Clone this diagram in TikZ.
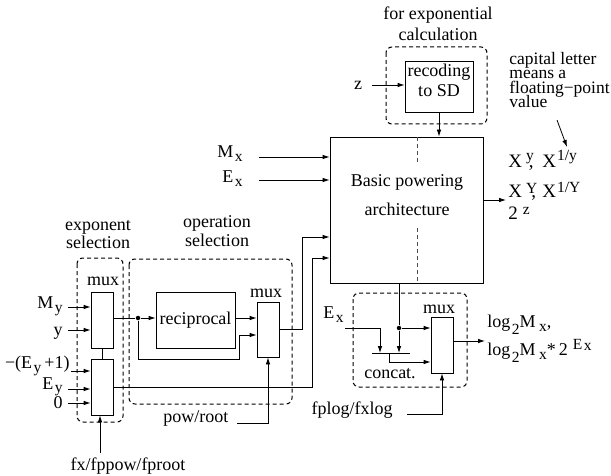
\documentclass[tikz,border=0pt]{standalone}
\usepackage{fontspec}
\setmainfont{Liberation Serif}
\usetikzlibrary{arrows.meta,calc}
\newcommand{\lo}[2][4pt]{\kern1.5pt\raisebox{-#1}{\fontsize{15.5}{15.5}\selectfont #2}}
\newcommand{\hi}[2][7pt]{\raisebox{#1}{\fontsize{15.5}{15.5}\selectfont #2}}
\begin{document}
\begin{tikzpicture}[x=1pt,y=-1pt,font=\fontsize{18}{20}\selectfont,line width=0.8pt,
  arr/.style={-{Latex[length=7pt,width=4.6pt]}},
  box/.style={draw,inner sep=0pt},
  dbox/.style={draw,line width=1pt,dash pattern=on 4pt off 3pt,rounded corners=6pt},
  txt/.style={inner sep=0pt},
  big/.style={font=\fontsize{19}{20}\selectfont},
  note/.style={font=\fontsize{17.5}{18}\selectfont},
  dot/.style={circle,fill,inner sep=0pt,minimum size=4.5pt}]
\path[use as bounding box] (0,0) rectangle (611,476);

% main block
\node[box,minimum width=153pt,minimum height=146pt] (main) at (406.5,210) {};
\coordinate (dl1) at (417,137); \coordinate (dl2) at (417,164);
\coordinate (dl3) at (417,228); \coordinate (dl4) at (417,283);
\draw[dash pattern=on 4pt off 3pt,draw=black!70] (dl1)--(dl2) (dl3)--(dl4);
\node[txt,anchor=base] (bp1) at (407,187) {Basic powering};
\node[txt,anchor=base] (bp2) at (407,215) {architecture};

% recoding
\draw[dbox] (386,47) rectangle (487,124);
\node[box,minimum width=68pt,minimum height=51pt] (rec) at (439,86.5) {};
\node[txt,anchor=base] (rc1) at (439,77) {recoding};
\node[txt,anchor=base] (rc2) at (439,97) {to SD};
\node[txt,anchor=base] (fe1) at (438,20) {for exponential};
\node[txt,anchor=base] (fe2) at (438,41) {calculation};
\node[txt,anchor=base] (zin) at (358,90) {z};
\coordinate (iz) at (372,85);
\draw[arr] (iz) -- (iz -| rec.west);
\draw[arr] (rec.south) -- (rec.south |- main.north);

% note
\node[txt,note,anchor=base west] (n1) at (509,65) {capital letter};
\node[txt,note,anchor=base west] (n2) at (509,79) {means a};
\node[txt,note,anchor=base west] (n3) at (509,94) {floating−point};
\node[txt,note,anchor=base west] (n4) at (509,108) {value};
\coordinate (na) at (557,120); \coordinate (nb) at (567,147);
\draw[arr] (na) -- (nb);

% outputs
\node[txt,big,anchor=base west] (o1a) at (508,168) {X\kern4pt\hi[8pt]{y}\kern-5pt,};
\node[txt,big,anchor=base west] (o1b) at (542,168) {X\kern1pt\hi[8pt]{1/y}};
\node[txt,big,anchor=base west] (o2a) at (508,197) {X\kern4pt\hi[4pt]{Y}\kern-6pt,};
\node[txt,big,anchor=base west] (o2b) at (542,197) {X\kern1pt\hi[5pt]{1/Y}};
\node[txt,big,anchor=base west] (o3) at (508,219) {2\kern5pt\hi[5pt]{z}};
\coordinate (oa) at (506,200);
\draw[arr] (main.east |- oa) -- (oa);

% Mx, Ex
\node[txt,anchor=base east] (Mx) at (243,158) {M\lo{x}};
\node[txt,anchor=base east] (Ex) at (243,183) {E\lo{x}};
\coordinate (iMx) at (259,157); \coordinate (iEx) at (259,180);
\draw[arr] (iMx) -- (iMx -| main.west);
\draw[arr] (iEx) -- (iEx -| main.west);

% exponent selection
\draw[dbox] (77,258) rectangle (123,422);
\node[txt,anchor=base] (es1) at (98,231) {exponent};
\node[txt,anchor=base] (es2) at (98,248) {selection};
\node[box,minimum width=22pt,minimum height=56pt] (m1) at (102,320) {};
\node[box,minimum width=22pt,minimum height=56pt] (m2) at (102,387) {};
\node[txt,anchor=base] (mx1) at (103,285) {mux};
\draw (m1.south) -- (m2.north);

\node[txt,anchor=base east] (My) at (63,308) {M\lo{y}};
\node[txt,anchor=base east] (yin) at (63,335) {y};
\node[txt,anchor=base east] (Eyp) at (70,368) {−(E\lo{y}\kern3pt+1)};
\node[txt,anchor=base east] (Ey) at (63,389) {E\lo[3pt]{y}};
\node[txt,anchor=base east] (zero) at (63,408) {0};
\coordinate (a1) at (68,307); \coordinate (a2) at (68,330);
\coordinate (a3) at (71,371); \coordinate (a4) at (68,389);
\coordinate (a5) at (68,403);
\draw[arr] (a1) -- (a1 -| m1.west);
\draw[arr] (a2) -- (a2 -| m1.west);
\draw[arr] (a3) -- (a3 -| m2.west);
\draw[arr] (a4) -- (a4 -| m2.west);
\draw[arr] (a5) -- (a5 -| m2.west);

\node[txt,anchor=base] (fx) at (128,470) {fx/fppow/fproot};
\coordinate (fxa) at (100,453);
\draw[arr] (fxa) -- (fxa |- m2.south);

% operation selection
\draw[dbox] (129,259) rectangle (292,404);
\node[txt,anchor=base] (os1) at (217,228) {operation};
\node[txt,anchor=base] (os2) at (217,247) {selection};
\node[box,minimum width=79pt,minimum height=56pt] (recip) at (195.5,320) {};
\node[txt,anchor=base] (rt) at (195.5,324) {reciprocal};
\node[box,minimum width=22pt,minimum height=55pt] (mop) at (268,329.5) {};
\node[txt,anchor=base] (mx2) at (266,297) {mux};
\node[dot] (dt) at (138,318) {};
\draw (m1.east |- dt) -- (dt);
\draw[arr] (dt) -- (dt -| recip.west);
\coordinate (lp2) at (239,359); \coordinate (lp3) at (239,335);
\draw[arr] (dt) |- (lp2) |- (mop.west |- lp3);
\draw[arr] (recip.east |- dt) -- (mop.west |- dt);
\coordinate (r1) at (302,237); \coordinate (r2) at (312,258);
\draw[arr] (mop.east) -| (r1) -- (r1 -| main.west);
\draw[arr] (m2.east) -| (r2) -- (r2 -| main.west);

\node[txt,anchor=base west] (pr) at (163,422) {pow/root};
\coordinate (pra) at (237,423);
\draw[arr] (pra) -| (mop.south);

% log section
\draw[dbox] (353,293) rectangle (467,387);
\node[box,minimum width=22pt,minimum height=56pt] (m3) at (442,345) {};
\node[txt,anchor=base] (mx3) at (439,313) {mux};
\node[dot] (dt2) at (399,328) {};
\draw (main.south -| dt2) -- (dt2);
\draw[arr] (dt2) -- (dt2 -| m3.west);
\coordinate (barL) at (372,353); \coordinate (barR) at (410,353);
\draw (barL) -- (barR);
\draw[arr] (dt2) -- (dt2 |- barL);
\node[txt,anchor=base east] (Ex2) at (344,318) {E\lo{x}};
\coordinate (ex1) at (345,328); \coordinate (ex2) at (380,353);
\draw[arr] (ex1) -| (ex2);
\coordinate (cb) at (389,353); \coordinate (cc) at (389,362);
\draw[arr] (cb) |- (m3.west |- cc);
\node[txt,anchor=base] (cat) at (390,378) {concat.};
\coordinate (lout) at (485,341);
\draw[arr] (m3.east |- lout) -- (lout);
\node[txt,anchor=base west] (lg1) at (487,327) {log\lo[7pt]{2}M\kern2pt\lo[4pt]{x},};
\node[txt,anchor=base west] (lg2) at (487,355) {log\lo[7pt]{2}M\kern2pt\lo[4pt]{x}*\,2\kern5pt\hi[6pt]{E\lo[1pt]{x}}};
\node[txt,anchor=base east] (fp) at (393,414) {fplog/fxlog};
\coordinate (fpa) at (407,414);
\draw[arr] (fpa) -| (m3.south);
\end{tikzpicture}
\end{document}
